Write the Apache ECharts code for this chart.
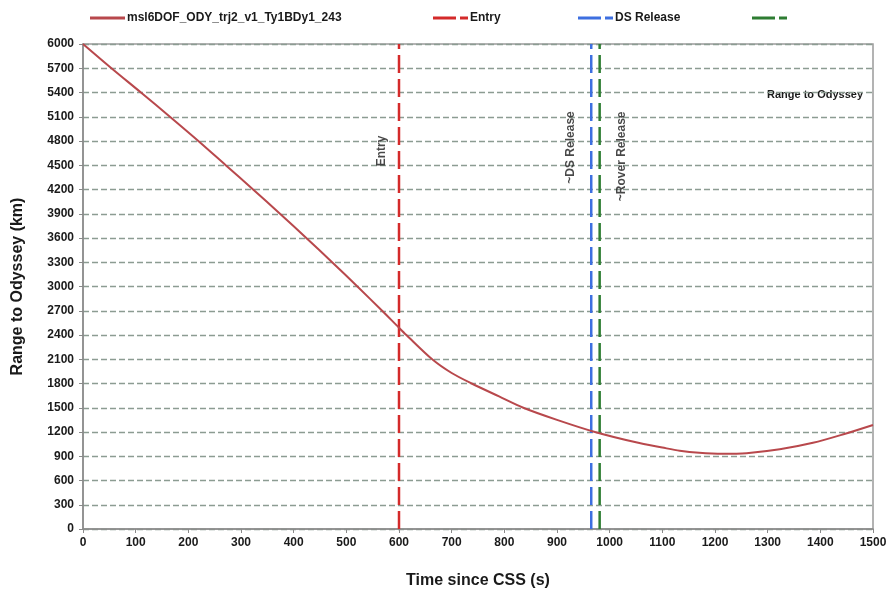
<!DOCTYPE html>
<html>
<head>
<meta charset="utf-8">
<script src="https://cdn.jsdelivr.net/npm/echarts@6/dist/echarts.min.js"></script>
<style>
  html, body { margin: 0; padding: 0; background: #fff; }
  #chart { width: 893px; height: 597px; }
</style>
</head>
<body>
<div id="chart"></div>
<script>
// Range to Odyssey over time since cruise stage separation
const timeS = [0, 54, 110, 165, 219, 271, 323, 374, 424, 473, 521, 568, 600, 614, 663, 700, 738, 790, 836, 900, 972, 1050, 1100, 1133, 1170, 1215, 1260, 1323, 1386, 1444, 1500];
const rangeKm = [6000, 5700, 5400, 5100, 4800, 4500, 4200, 3900, 3600, 3300, 3000, 2700, 2490, 2400, 2100, 1930, 1800, 1640, 1500, 1350, 1200, 1072, 1008, 968, 942, 930, 938, 986, 1066, 1172, 1287];

// Event times (s)
const eventNames = ['Entry', 'DS Release', ' '];
const eventTimes = [600, 965, 981];
const eventColors = ['#d42a2a', '#3d6fe0', '#2e7d32'];
const eventLabels = ['Entry', '~DS Release', '~Rover Release'];

const trajName = 'msl6DOF_ODY_trj2_v1_Ty1BDy1_243';
const curveColor = '#b8484c';

const labelFont = { fontFamily: 'Liberation Sans, Arial, sans-serif', fontWeight: 'bold', color: '#1a1a1a' };

const solidIcon = 'path://M0,0h35v3h-35z';
const dashIcon = 'path://M0,0h23v3h-23zM27,0h8v3h-8z';

const chart = echarts.init(document.getElementById('chart'), null, { renderer: 'canvas' });

const series = [{
  name: trajName,
  type: 'line',
  data: timeS.map((t, i) => [t, rangeKm[i]]),
  smooth: 0.3,
  showSymbol: false,
  color: curveColor,
  lineStyle: { color: curveColor, width: 2 },
  z: 5
}];

// Vertical event markers with rotated captions
const labelOffsets = [[-17, 4676], [-21, 4720], [22, 4610]];
eventTimes.forEach((t, i) => {
  series.push({
    name: eventNames[i],
    type: 'line',
    data: [[t, 0], [t, 6000]],
    showSymbol: false,
    color: eventColors[i],
    lineStyle: { color: eventColors[i], width: 2.5, type: [18, 6] },
    z: 4
  });
  series.push({
    type: 'scatter',
    data: [[t, labelOffsets[i][1]]],
    symbolSize: 0,
    silent: true,
    label: {
      show: true,
      formatter: eventLabels[i],
      rotate: 90,
      position: [labelOffsets[i][0], 0],
      align: 'center',
      verticalAlign: 'middle',
      fontSize: 12,
      ...labelFont
    },
    z: 6
  });
});

const legendBase = {
  top: 7,
  itemWidth: 35,
  itemHeight: 3,
  itemGap: 4,
  textStyle: { fontSize: 12, ...labelFont, padding: [0, 0, 0, -3] }
};

const plainNumber = v => String(v);

chart.setOption({
  animation: false,
  backgroundColor: '#ffffff',
  legend: [
    { ...legendBase, left: 85, data: [{ name: trajName, icon: solidIcon }] },
    { ...legendBase, left: 428, data: [{ name: eventNames[0], icon: dashIcon }] },
    { ...legendBase, left: 573, data: [{ name: eventNames[1], icon: dashIcon }] },
    { ...legendBase, left: 747, data: [{ name: eventNames[2], icon: dashIcon }] }
  ],
  grid: {
    left: 83, right: 20, top: 44, bottom: 68,
    show: true, borderColor: '#9a9a9a', borderWidth: 1.5
  },
  xAxis: {
    type: 'value',
    min: 0, max: 1500, interval: 100,
    name: 'Time since CSS (s)',
    nameLocation: 'middle',
    nameGap: 44,
    nameTextStyle: { fontSize: 16, ...labelFont },
    axisLine: { show: true, lineStyle: { color: '#8a8a8a', width: 1.5 } },
    axisTick: { show: true, length: 4, lineStyle: { color: '#8a8a8a' } },
    axisLabel: { fontSize: 12, margin: 8, formatter: plainNumber, ...labelFont },
    splitLine: { show: false }
  },
  yAxis: {
    type: 'value',
    min: 0, max: 6000, interval: 300,
    name: 'Range to Odyssey (km)',
    nameLocation: 'middle',
    nameGap: 57,
    nameTextStyle: { fontSize: 16, ...labelFont },
    axisLine: { show: true, lineStyle: { color: '#8a8a8a', width: 1.5 } },
    axisTick: { show: true, length: 4, lineStyle: { color: '#8a8a8a' } },
    axisLabel: { fontSize: 12, margin: 9, formatter: plainNumber, ...labelFont },
    splitLine: { show: true, lineStyle: { color: '#8c9c92', width: 1.3, type: [6, 3] } }
  },
  graphic: [{
    type: 'text',
    right: 30,
    top: 89,
    style: { text: 'Range to Odyssey', font: 'bold 11px "Liberation Sans", Arial, sans-serif', fill: '#1a1a1a' }
  }],
  series: series
});
</script>
</body>
</html>
